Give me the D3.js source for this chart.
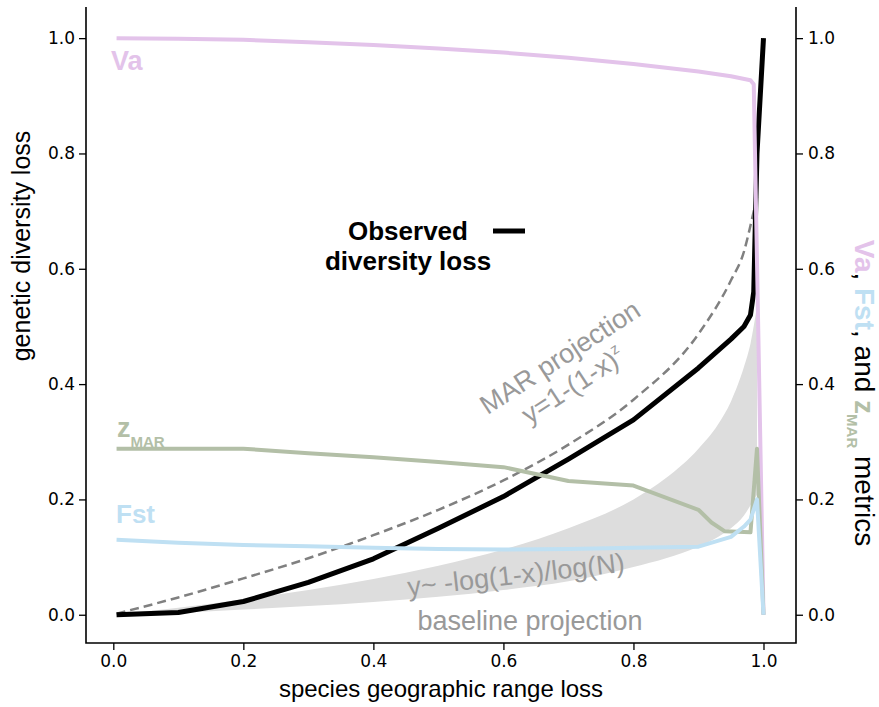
<!DOCTYPE html>
<html>
<head>
<meta charset="utf-8">
<script src="https://cdn.jsdelivr.net/npm/d3@7"></script>
<style>
    body { margin: 0; background: #fff; }
    svg { display: block; }
    .tick text { font-family: "DejaVu Sans", sans-serif; font-size: 17px; fill: #000; }
    .lbl { font-family: "Liberation Sans", Arial, Helvetica, sans-serif; }
</style>
</head>
<body>
<div id="chart"></div>
<script>
// range loss (x) sampled along each curve
var obsX    = [0.005, 0.1, 0.2, 0.3, 0.4, 0.5, 0.6, 0.7, 0.8, 0.9, 0.95, 0.97, 0.98, 0.985, 0.99, 1.0];
var obsY    = [0.0, 0.004, 0.023, 0.056, 0.097, 0.15, 0.205, 0.27, 0.338, 0.428, 0.478, 0.5, 0.52, 0.56, 0.8, 1.0];

var marX    = [0.005, 0.1, 0.2, 0.3, 0.4, 0.5, 0.6, 0.7, 0.8, 0.9, 0.95, 0.97, 0.98, 0.99];
var marY    = [0.002, 0.03, 0.063, 0.098, 0.138, 0.182, 0.233, 0.295, 0.373, 0.487, 0.58, 0.63, 0.675, 0.725];

var bandX   = [0.005, 0.1, 0.2, 0.3, 0.4, 0.5, 0.6, 0.7, 0.8, 0.85, 0.9, 0.93, 0.95, 0.97, 0.98, 0.99];
var bandLo  = [0.0, 0.003, 0.009, 0.015, 0.022, 0.031, 0.043, 0.058, 0.083, 0.098, 0.118, 0.135, 0.15, 0.172, 0.19, 0.208];
var bandHi  = [0.0, 0.012, 0.027, 0.043, 0.062, 0.085, 0.113, 0.15, 0.2, 0.237, 0.288, 0.33, 0.37, 0.43, 0.47, 0.535];

var vaX     = [0.005, 0.1, 0.2, 0.3, 0.4, 0.5, 0.6, 0.7, 0.8, 0.9, 0.95, 0.98, 0.985, 1.0];
var vaY     = [1.0, 0.999, 0.997, 0.993, 0.988, 0.982, 0.975, 0.966, 0.955, 0.942, 0.934, 0.927, 0.92, 0.0];

var fstX    = [0.005, 0.1, 0.2, 0.3, 0.4, 0.5, 0.6, 0.7, 0.8, 0.9, 0.95, 0.97, 0.98, 0.99, 1.0];
var fstY    = [0.13, 0.125, 0.121, 0.119, 0.116, 0.114, 0.113, 0.114, 0.116, 0.118, 0.135, 0.153, 0.165, 0.2, 0.0];

var zX      = [0.005, 0.1, 0.2, 0.3, 0.4, 0.5, 0.6, 0.7, 0.8, 0.9, 0.92, 0.94, 0.98, 0.99, 1.0];
var zY      = [0.288, 0.288, 0.288, 0.28, 0.273, 0.265, 0.256, 0.232, 0.224, 0.182, 0.16, 0.145, 0.143, 0.288, 0.0];

var tickVals = [0, 0.2, 0.4, 0.6, 0.8, 1.0];

var colVa = "#e3c3ea",
    colFst = "#bfe0f3",
    colZ = "#b3bfa7",
    colGrey = "#999999";

var width = 879,
    height = 707,
    plotLeft = 86,
    plotRight = 796,
    plotTop = 7,
    plotBottom = 643;

var x = d3.scaleLinear().domain([-0.042, 1.05]).range([plotLeft, plotRight]),
    y = d3.scaleLinear().domain([-0.049, 1.054]).range([plotBottom, plotTop]);

var svg = d3.select("#chart")
            .append("svg")
            .attr("width", width)
            .attr("height", height);

function pairs(xs, ys) {
    return xs.map(function(d, i) { return [d, ys[i]]; });
}

var line = d3.line()
             .x(function(d) { return x(d[0]); })
             .y(function(d) { return y(d[1]); });

var smoothLine = d3.line()
                   .curve(d3.curveMonotoneX)
                   .x(function(d) { return x(d[0]); })
                   .y(function(d) { return y(d[1]); });

// grey baseline band
var band = d3.area()
             .curve(d3.curveMonotoneX)
             .x(function(d) { return x(d.x); })
             .y0(function(d) { return y(d.lo); })
             .y1(function(d) { return y(d.hi); });

svg.append("path")
   .datum(bandX.map(function(d, i) { return {x : d, lo : bandLo[i], hi : bandHi[i]}; }))
   .attr("d", band)
   .style("fill", "#dddddd");

// MAR projection (dashed)
svg.append("path")
   .datum(pairs(marX, marY))
   .attr("d", smoothLine)
   .style("fill", "none")
   .style("stroke", "#808080")
   .style("stroke-width", 2.5)
   .style("stroke-dasharray", "9,5");

// observed
svg.append("path")
   .datum(pairs(obsX, obsY))
   .attr("d", line)
   .style("fill", "none")
   .style("stroke", "#000")
   .style("stroke-width", 5)
   .style("stroke-linejoin", "round");

// twin axis metrics
[[vaX, vaY, colVa], [zX, zY, colZ], [fstX, fstY, colFst]].forEach(function(s) {
    svg.append("path")
       .datum(pairs(s[0], s[1]))
       .attr("d", line)
       .style("fill", "none")
       .style("stroke", s[2])
       .style("stroke-width", 4)
       .style("stroke-linejoin", "round");
});

// axes
var fmt = d3.format(".1f");

svg.append("g")
   .attr("transform", "translate(0," + plotBottom + ")")
   .call(d3.axisBottom(x).tickValues(tickVals).tickFormat(fmt).tickSize(7).tickPadding(5))
   .call(function(g) { g.select(".domain").remove(); });

svg.append("g")
   .attr("transform", "translate(" + plotLeft + ",0)")
   .call(d3.axisLeft(y).tickValues(tickVals).tickFormat(fmt).tickSize(7).tickPadding(4))
   .call(function(g) { g.select(".domain").remove(); });

svg.append("g")
   .attr("transform", "translate(" + plotRight + ",0)")
   .call(d3.axisRight(y).tickValues(tickVals).tickFormat(fmt).tickSize(7).tickPadding(5))
   .call(function(g) { g.select(".domain").remove(); });

svg.selectAll(".tick line").style("stroke-width", 1.3);

// spines (no top one)
svg.append("path")
   .attr("d", "M" + plotLeft + "," + plotTop + "V" + plotBottom + "H" + plotRight + "V" + plotTop)
   .style("fill", "none")
   .style("stroke", "#000")
   .style("stroke-width", 1.6);

// axis titles
svg.append("text")
   .attr("class", "lbl")
   .attr("transform", "translate(30,246) rotate(-90)")
   .attr("text-anchor", "middle")
   .style("font-size", "25px")
   .text("genetic diversity loss");

svg.append("text")
   .attr("class", "lbl")
   .attr("x", 441)
   .attr("y", 697)
   .attr("text-anchor", "middle")
   .style("font-size", "24px")
   .text("species geographic range loss");

var rt = svg.append("text")
            .attr("class", "lbl")
            .attr("transform", "translate(855,393) rotate(90)")
            .attr("text-anchor", "middle")
            .style("font-size", "28px");
rt.append("tspan").style("font-weight", "bold").style("fill", colVa).text("Va");
rt.append("tspan").text(", ");
rt.append("tspan").style("font-weight", "bold").style("fill", colFst).text("Fst");
rt.append("tspan").text(", and ");
rt.append("tspan").style("font-weight", "bold").style("fill", colZ).text("z");
rt.append("tspan").style("font-weight", "bold").style("fill", colZ).style("font-size", "15px").attr("dy", 8).text("MAR");
rt.append("tspan").attr("dy", -8).text(" metrics");

// series labels
svg.append("text")
   .attr("class", "lbl")
   .attr("x", 111).attr("y", 70)
   .style("font-size", "27px").style("font-weight", "bold").style("fill", colVa)
   .text("Va");

svg.append("text")
   .attr("class", "lbl")
   .attr("x", 116).attr("y", 523)
   .style("font-size", "26px").style("font-weight", "bold").style("fill", colFst)
   .text("Fst");

var zl = svg.append("text")
            .attr("class", "lbl")
            .attr("x", 117).attr("y", 437)
            .style("font-weight", "bold").style("fill", colZ);
zl.append("tspan").style("font-size", "27px").text("z");
zl.append("tspan").style("font-size", "15px").attr("dy", 10).text("MAR");

// legend for the observed line
svg.append("text")
   .attr("class", "lbl")
   .attr("x", 408).attr("y", 240)
   .attr("text-anchor", "middle")
   .style("font-size", "26px").style("font-weight", "bold")
   .text("Observed");

svg.append("text")
   .attr("class", "lbl")
   .attr("x", 408).attr("y", 270)
   .attr("text-anchor", "middle")
   .style("font-size", "26px").style("font-weight", "bold")
   .text("diversity loss");

svg.append("line")
   .attr("x1", 493).attr("x2", 525)
   .attr("y1", 231).attr("y2", 231)
   .style("stroke", "#000")
   .style("stroke-width", 5);

// grey annotations
svg.append("text")
   .attr("class", "lbl")
   .attr("transform", "translate(565,365) rotate(-33)")
   .attr("text-anchor", "middle")
   .style("font-size", "27px").style("fill", colGrey)
   .text("MAR projection");

var mf = svg.append("text")
            .attr("class", "lbl")
            .attr("transform", "translate(578,393) rotate(-33)")
            .attr("text-anchor", "middle")
            .style("font-size", "27px").style("fill", colGrey);
mf.append("tspan").text("y=1-(1-x)");
mf.append("tspan").style("font-size", "15px").attr("dy", -12).text("z");

svg.append("text")
   .attr("class", "lbl")
   .attr("transform", "translate(517,584) rotate(-6.5)")
   .attr("text-anchor", "middle")
   .style("font-size", "27px").style("fill", colGrey)
   .text("y~ -log(1-x)/log(N)");

svg.append("text")
   .attr("class", "lbl")
   .attr("x", 530).attr("y", 630)
   .attr("text-anchor", "middle")
   .style("font-size", "27px").style("fill", colGrey)
   .text("baseline projection");
</script>
</body>
</html>
